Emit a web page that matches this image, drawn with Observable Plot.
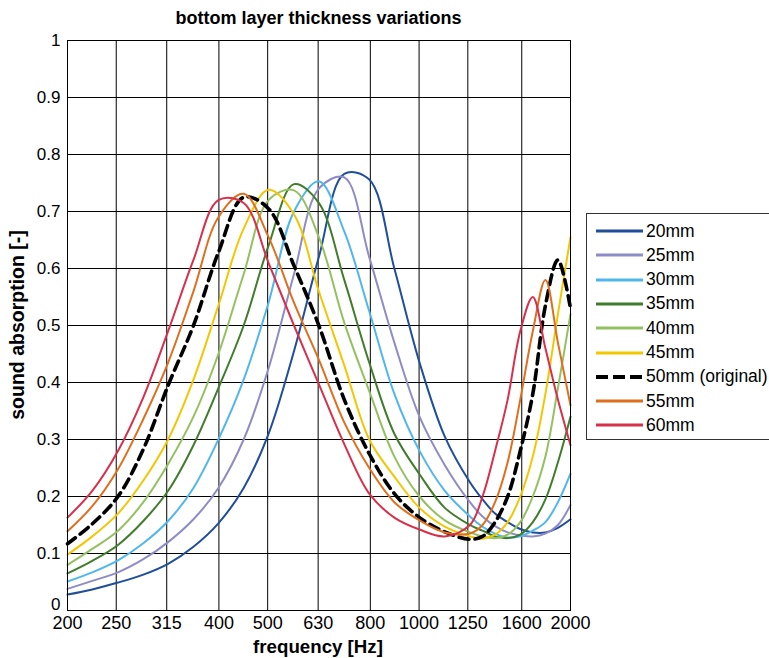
<!DOCTYPE html>
<html>
<head>
<meta charset="utf-8">
<script src="https://cdn.jsdelivr.net/npm/d3@7"></script>
<script src="https://cdn.jsdelivr.net/npm/@observablehq/plot@0.6"></script>
<style>
html, body { margin: 0; padding: 0; background: #fff; overflow: hidden; }
#wrap { position: relative; width: 769px; height: 658px; font-family: "Liberation Sans", Arial, sans-serif; color: #000; }
#title { position: absolute; left: 0; top: 0; width: 637px; height: 30px; text-align: center; font-weight: bold; font-size: 18px; line-height: 36px; white-space: nowrap; }
#chart { position: absolute; left: 0; top: 30px; }
.lab { position: absolute; font-weight: bold; white-space: nowrap; line-height: 1; }
#legend { position: absolute; left: 586px; top: 213px; width: 200px; height: 227px; border: 1px solid #333; background: #fff; box-sizing: border-box; }
.row { position: absolute; left: 9px; height: 20px; display: flex; align-items: center; font-size: 17.5px; white-space: nowrap; }
.row svg { margin-right: 3px; }
</style>
</head>
<body>
<div id="wrap">
  <div id="title">bottom layer thickness variations</div>
  <div id="chart"></div>
  <div class="lab" style="left:318px; top:647px; font-size:18.7px; transform: translate(-50%,-50%);">frequency [Hz]</div>
  <div class="lab" style="left:18px; top:325px; font-size:19.5px; transform: translate(-50%,-50%) rotate(-90deg);">sound absorption [-]</div>
  <div id="legend"></div>
</div>
<script>
// frequency sample points (Hz)
const freq = [200,224,252,283,317,356,399,448,502,564,632,710,796,893,1002,1125,1262,1337,1416,1500,1589,1683,1783,1888,2000];

// sound absorption per bottom-layer thickness
const s20 = [.028,.037,.049,.063,.082,.112,.153,.215,.31,.455,.62,.766,.756,.60,.435,.305,.225,.195,.17,.155,.143,.137,.137,.145,.16];
const s25 = [.038,.052,.067,.09,.12,.16,.215,.30,.425,.59,.74,.76,.62,.47,.34,.255,.19,.165,.148,.137,.132,.13,.135,.15,.185];
const s30 = [.051,.067,.088,.118,.157,.215,.30,.405,.54,.70,.753,.665,.525,.38,.28,.21,.165,.147,.135,.128,.13,.14,.155,.19,.24];
const s35 = [.065,.087,.115,.157,.21,.29,.39,.50,.64,.748,.715,.58,.435,.31,.239,.18,.15,.14,.13,.127,.133,.155,.195,.26,.34];
const s40 = [.080,.108,.14,.19,.257,.34,.45,.59,.72,.737,.655,.505,.385,.27,.20,.158,.137,.13,.127,.133,.155,.20,.27,.39,.52];
const s45 = [.098,.13,.17,.228,.30,.405,.535,.67,.738,.695,.56,.43,.30,.235,.18,.147,.13,.126,.133,.155,.20,.27,.38,.52,.655];
const s50 = [.117,.152,.20,.283,.395,.50,.628,.725,.705,.605,.50,.37,.275,.205,.163,.138,.125,.13,.155,.20,.28,.38,.535,.615,.53];
const s55 = [.139,.183,.248,.336,.435,.56,.69,.731,.655,.54,.44,.33,.25,.19,.158,.137,.135,.15,.19,.26,.37,.49,.58,.47,.36];
const s60 = [.163,.21,.28,.374,.49,.615,.72,.715,.61,.50,.397,.292,.205,.163,.142,.13,.15,.20,.28,.37,.49,.55,.46,.37,.29];

const seriesNames  = ["20mm","25mm","30mm","35mm","40mm","45mm","50mm (original)","55mm","60mm"];
const seriesValues = [s20, s25, s30, s35, s40, s45, s50, s55, s60];
const seriesColors = ["#1f4e9a","#8e8cc7","#50b7ec","#3f7d2a","#94c15f","#f3c700","#000000","#df6f1f","#d82f4a"];

const xTicks = [200,250,315,400,500,630,800,1000,1250,1600,2000];
const yTicks = [0,0.1,0.2,0.3,0.4,0.5,0.6,0.7,0.8,0.9,1];

const lineMarks = seriesValues.map((vals, i) => {
  const data = freq.map((f, j) => ({f, v: vals[j]}));
  const dashed = seriesNames[i].includes("original");
  return Plot.line(data, {
    x: "f", y: "v",
    stroke: seriesColors[i],
    strokeWidth: dashed ? 3.6 : 2,
    strokeDasharray: dashed ? "10,6" : null,
    curve: "catmull-rom"
  });
});

const yFmt = d => String(+d.toFixed(1));

const chart = Plot.plot({
  width: 769,
  height: 628,
  marginLeft: 67,
  marginRight: 199,
  marginTop: 10,
  marginBottom: 48,
  style: {fontFamily: "Liberation Sans, Arial, sans-serif", fontSize: "17px", color: "#000", background: "#fff", overflow: "visible"},
  x: {type: "log", domain: [200, 2000], axis: null},
  y: {domain: [0, 1], axis: null},
  marks: [
    Plot.gridX(xTicks, {stroke: "#000", strokeOpacity: 1, strokeWidth: 1}),
    Plot.gridY(yTicks, {stroke: "#000", strokeOpacity: 1, strokeWidth: 1}),
    Plot.text(xTicks, {x: d => d, text: d => String(d), frameAnchor: "bottom", dy: 18, fontSize: 18, fill: "#000"}),
    Plot.text(yTicks.filter(d => d > 0), {y: d => d, text: yFmt, frameAnchor: "left", dx: -7, textAnchor: "end", fontSize: 17, fill: "#000"}),
    Plot.text(yTicks.filter(d => d === 0), {y: d => d, text: yFmt, frameAnchor: "left", dx: -7, dy: -6, textAnchor: "end", fontSize: 17, fill: "#000"}),
    ...lineMarks,
    Plot.frame({stroke: "#000", strokeWidth: 1})
  ]
});
document.getElementById("chart").appendChild(chart);

// legend
const legend = document.getElementById("legend");
seriesNames.forEach((name, i) => {
  const row = document.createElement("div");
  row.className = "row";
  row.style.top = (7 + i * 24.3) + "px";
  const dashed = name.includes("original");
  row.innerHTML = `<svg width="47" height="8"><line x1="0" y1="4" x2="47" y2="4" stroke="${seriesColors[i]}" stroke-width="${dashed ? 4 : 3}" ${dashed ? 'stroke-dasharray="12,5"' : ''}/></svg><span>${name}</span>`;
  legend.appendChild(row);
});
</script>
</body>
</html>
